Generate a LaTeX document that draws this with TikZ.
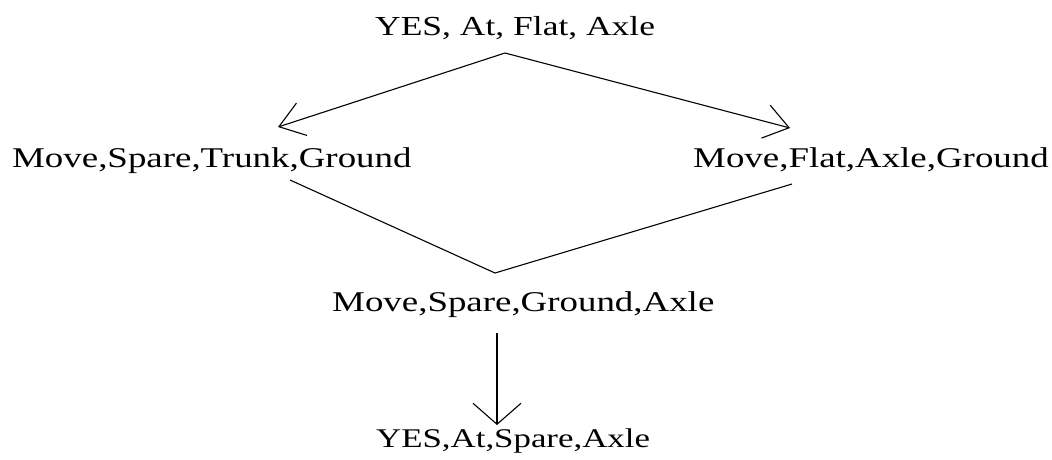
\documentclass[tikz,border=0pt]{standalone}
\usepackage{fontspec}
\setmainfont{Liberation Serif}[FakeStretch=1.29]
\usetikzlibrary{arrows.meta}
\tikzset{
  lbl/.style={inner sep=0pt, anchor=base west, font=\fontsize{28.6}{30}\selectfont},
  toplbl/.style={lbl, font=\fontsize{27.5}{30}\selectfont},
  botlbl/.style={lbl, font=\fontsize{27}{30}\selectfont},
  conn/.style={line width=1.1pt, black},
  arr/.style={conn, -{Straight Barb[length=24pt, width=34pt, line width=1.1pt]}},
  varr/.style={conn, -{Straight Barb[length=21pt, width=48pt, line width=1.1pt]}}
}
\begin{document}
\begin{tikzpicture}[x=1pt, y=-1pt]
\useasboundingbox[fill=white] (0,0) rectangle (1052,459);
\node[toplbl] (top) at (375,35) {YES, At, Flat, Axle};
\node[lbl] (ml) at (12,167) {Move,Spare,Trunk,Ground};
\node[lbl] (mr) at (693,167) {Move,Flat,Axle,Ground};
\node[lbl] (mid) at (332,311) {Move,Spare,Ground,Axle};
\node[botlbl] (bot) at (376,447) {YES,At,Spare,Axle};
\coordinate (apex) at (505,53);
\coordinate (tipL) at (278,127);
\coordinate (tipR) at (790,128);
\coordinate (lvL) at (290,180);
\coordinate (lvR) at (792,184);
\coordinate (lvB) at (495,273);
\coordinate (vtop) at (497,333);
\coordinate (vtip) at (497,425);
\draw[arr] (apex) -- (tipL);
\draw[arr] (apex) -- (tipR);
\draw[conn] (lvL) -- (lvB) -- (lvR);
\draw[varr] (vtop) -- (vtip);
\end{tikzpicture}
\end{document}
